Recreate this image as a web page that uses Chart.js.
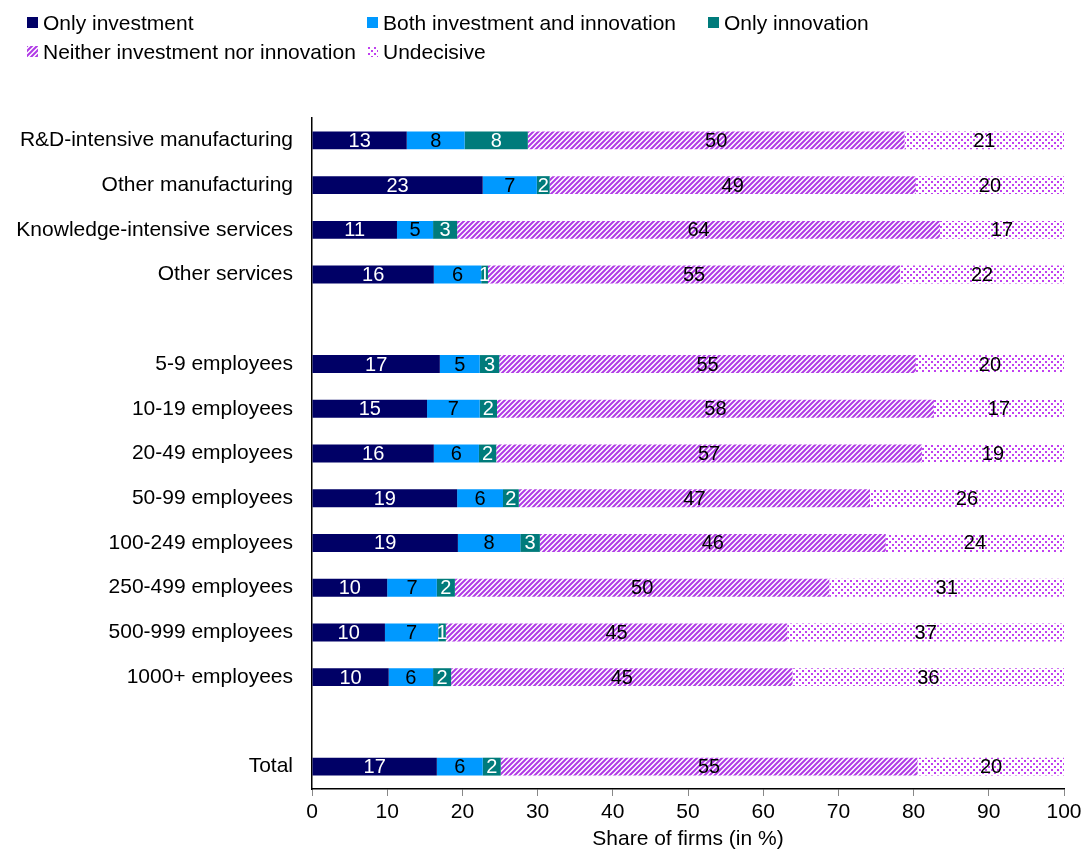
<!DOCTYPE html>
<html>
<head>
<meta charset="utf-8">
<script src="https://cdn.jsdelivr.net/npm/chart.js@4.4.0/dist/chart.umd.min.js"></script>
<style>
  html, body { margin: 0; padding: 0; background: #fff; }
  #wrap { position: relative; width: 1085px; height: 850px; }
  #chart { position: absolute; left: 0; top: 0; }
  .lg { position: absolute; font-family: "Liberation Sans", Arial, sans-serif; font-size: 21px; color: #000; line-height: 24px; white-space: nowrap; }
  .sw { position: absolute; width: 11px; height: 11px; left: 0; top: 6px; }
  .lg span.t { position: absolute; left: 16px; top: 0; }
</style>
</head>
<body>
<div id="wrap">
  <canvas id="chart" width="1085" height="850"></canvas>
  <div class="lg" style="left:27px;top:11px;"><div class="sw" style="background:#000066"></div><span class="t">Only investment</span></div>
  <div class="lg" style="left:367px;top:11px;"><div class="sw" style="background:#0099FF"></div><span class="t">Both investment and innovation</span></div>
  <div class="lg" style="left:708px;top:11px;"><div class="sw" style="background:#007B7B"></div><span class="t">Only innovation</span></div>
  <div class="lg" style="left:27px;top:40px;"><div class="sw" id="swHatch"></div><span class="t">Neither investment nor innovation</span></div>
  <div class="lg" style="left:367px;top:40px;"><div class="sw" id="swDots"></div><span class="t">Undecisive</span></div>
</div>
<script>
const categories = [
  "R&D-intensive manufacturing", "Other manufacturing", "Knowledge-intensive services", "Other services",
  "",
  "5-9 employees", "10-19 employees", "20-49 employees", "50-99 employees", "100-249 employees",
  "250-499 employees", "500-999 employees", "1000+ employees",
  "",
  "Total"
];
const onlyInvestment = [12.6, 22.7, 11.3, 16.2, null, 17.0, 15.3, 16.2, 19.3, 19.4, 10.0, 9.7, 10.2, null, 16.6];
const bothInvInno    = [7.7, 7.2, 4.8, 6.3, null, 5.3, 7.0, 6.0, 6.1, 8.3, 6.6, 7.1, 5.9, null, 6.1];
const onlyInnovation = [8.4, 1.7, 3.2, 0.9, null, 2.6, 2.3, 2.3, 2.1, 2.6, 2.4, 1.0, 2.4, null, 2.4];
const neither        = [50.1, 48.7, 64.2, 54.8, null, 55.4, 58.1, 56.6, 46.7, 46.0, 49.8, 45.4, 45.4, null, 55.4];
const undecisive     = [21.2, 19.7, 16.5, 21.8, null, 19.7, 17.3, 18.9, 25.8, 23.7, 31.2, 36.8, 36.1, null, 19.6];
const xTicks = [0, 10, 20, 30, 40, 50, 60, 70, 80, 90, 100];
const seriesNames = ["Only investment", "Both investment and innovation", "Only innovation", "Neither investment nor innovation", "Undecisive"];

const FONT = '"Liberation Sans", Arial, sans-serif';
const PURPLE = '#B03AE6';

function hatchCanvas() {
  const c = document.createElement('canvas');
  c.width = 5; c.height = 5;
  const g = c.getContext('2d');
  g.fillStyle = '#fff'; g.fillRect(0, 0, 5, 5);
  g.strokeStyle = PURPLE; g.lineWidth = 2;
  g.beginPath();
  g.moveTo(-1, 6); g.lineTo(6, -1);
  g.moveTo(-6, 6); g.lineTo(1, -1);
  g.moveTo(4, 6); g.lineTo(11, -1);
  g.stroke();
  return c;
}
function dotsCanvas() {
  const c = document.createElement('canvas');
  c.width = 6; c.height = 6;
  const g = c.getContext('2d');
  g.fillStyle = '#fff'; g.fillRect(0, 0, 6, 6);
  g.fillStyle = '#C040F0';
  g.fillRect(1, 1, 2, 2);
  g.fillRect(4, 4, 2, 2);
  return c;
}
const ctx = document.getElementById('chart').getContext('2d');
const hatchC = hatchCanvas(), dotsC = dotsCanvas();
const hatch = ctx.createPattern(hatchC, 'repeat');
const dots = ctx.createPattern(dotsC, 'repeat');
document.getElementById('swHatch').style.background = 'url(' + hatchC.toDataURL() + ')';
document.getElementById('swDots').style.background = 'url(' + dotsC.toDataURL() + ')';

const colors = ['#000066', '#0099FF', '#007B7B', hatch, dots];
const labelColors = ['#fff', '#000', '#fff', '#000', '#000'];
const series = [onlyInvestment, bothInvInno, onlyInnovation, neither, undecisive];

const valueLabels = {
  id: 'valueLabels',
  afterDatasetsDraw(chart) {
    const c = chart.ctx;
    c.save();
    c.font = '20px ' + FONT;
    c.textAlign = 'center';
    c.textBaseline = 'middle';
    chart.data.datasets.forEach((ds, di) => {
      const meta = chart.getDatasetMeta(di);
      meta.data.forEach((bar, i) => {
        const v = ds.data[i];
        if (v == null) return;
        const p = bar.getCenterPoint();
        c.fillStyle = labelColors[di];
        c.fillText(String(Math.round(v)), p.x, p.y + 1);
      });
    });
    c.restore();
  }
};

new Chart(ctx, {
  type: 'bar',
  data: {
    labels: categories,
    datasets: series.map((d, i) => ({
      label: seriesNames[i],
      data: d,
      backgroundColor: colors[i],
      borderWidth: 0,
      barPercentage: 0.4,
      categoryPercentage: 1.0
    }))
  },
  options: {
    indexAxis: 'y',
    responsive: false,
    animation: false,
    layout: { padding: { top: 118, right: 21, left: 0, bottom: 0 } },
    plugins: { legend: { display: false }, tooltip: { enabled: false } },
    scales: {
      x: {
        stacked: true,
        min: 0, max: 100,
        afterBuildTicks(scale) { scale.ticks = xTicks.map(v => ({ value: v })); },
        ticks: { color: '#000', font: { family: FONT, size: 21 }, padding: 4, maxRotation: 0 },
        grid: { display: true, drawOnChartArea: false, drawTicks: true, tickLength: 7, color: '#888' },
        border: { display: true, color: '#000', width: 1.5 },
        title: { display: true, text: 'Share of firms (in %)', color: '#000', font: { family: FONT, size: 21 }, padding: { top: 0, bottom: -2 } },
        afterFit(scale) { scale.height = 61; scale.paddingLeft = 0; scale.paddingRight = 0; }
      },
      y: {
        stacked: true,
        ticks: { color: '#000', font: { family: FONT, size: 21 }, padding: 19, autoSkip: false },
        grid: { display: true, drawOnChartArea: false, drawTicks: false },
        border: { display: true, color: '#000', width: 1.5 },
        afterFit(scale) { scale.width = 312; scale.paddingTop = 0; scale.paddingBottom = 0; }
      }
    }
  },
  plugins: [valueLabels]
});
</script>
</body>
</html>
